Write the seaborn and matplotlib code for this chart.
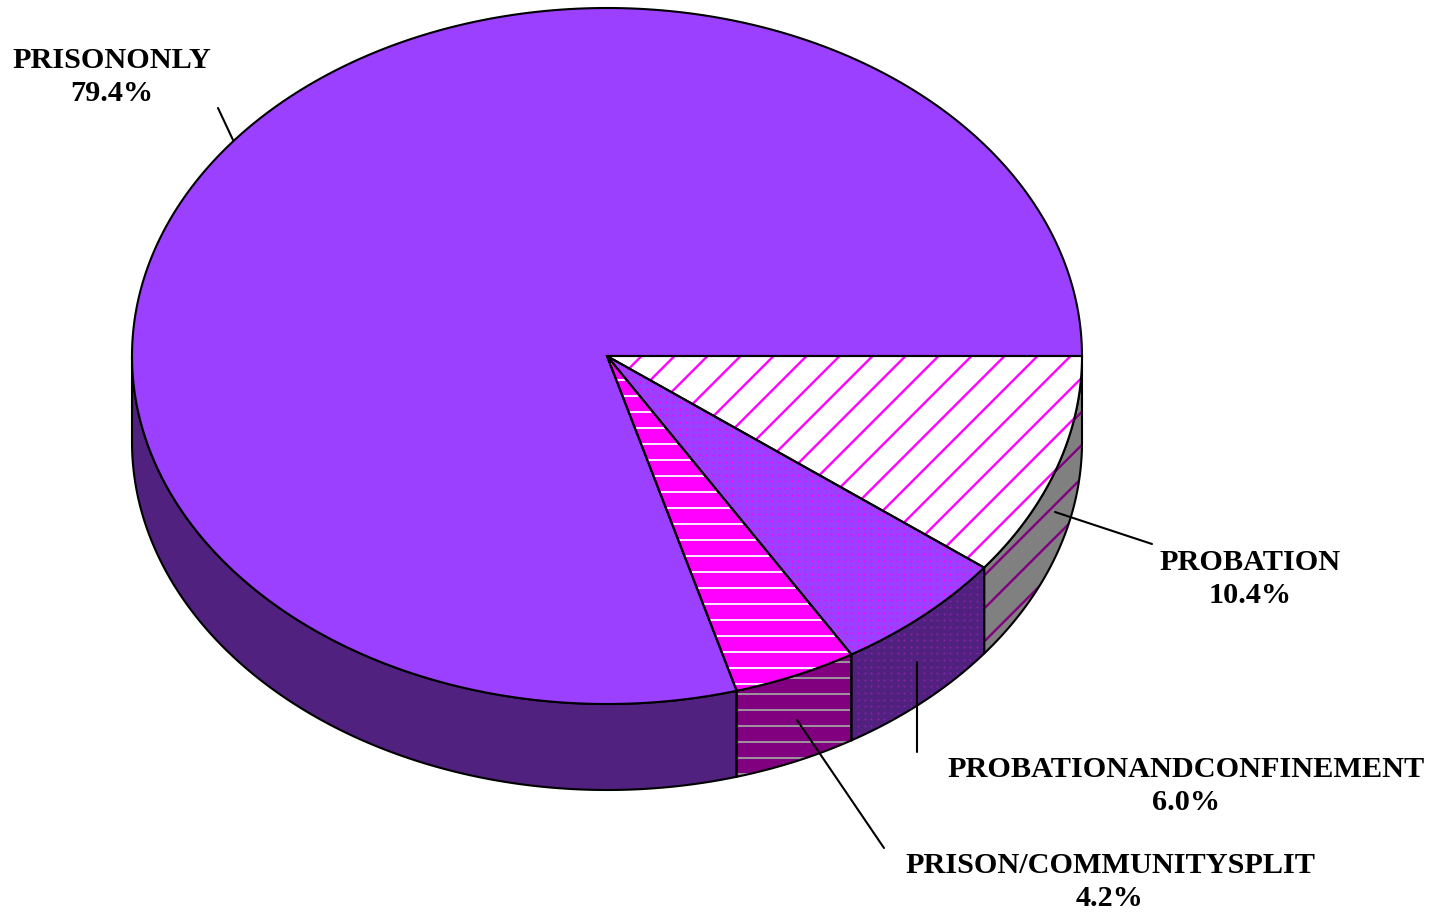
import numpy as np
import matplotlib
matplotlib.use("Agg")
import matplotlib.pyplot as plt
import seaborn as sns
from matplotlib.patches import Polygon
from matplotlib.collections import LineCollection

# Datos del gráfico (porcentajes)
categorias = ["PROBATION", "PROBATIONANDCONFINEMENT", "PRISON/COMMUNITYSPLIT", "PRISONONLY"]
porcentajes = [10.4, 6.0, 4.2, 79.4]

# Estilo de cada porción: color superior, color lateral, tipo de trama
color_top = ["#FFFFFF", "#9C40FF", "#FF00FF", "#9C40FF"]
color_lado = ["#808080", "#50217E", "#800080", "#50217E"]
trama = [("diag", "#FF00FF", "#800080"), ("dots", "#FF00FF", "#8A1FA8"),
         ("horiz", "#FFFFFF", "#A0A0A0"), (None, None, None)]

# Posiciones de etiquetas y líneas guía (en píxeles)
pos_etiquetas = [(1250, 579), (1186, 786), (1110, 882), (112, 77)]
lineas_guia = [((1055, 512), (1152, 544)), ((917, 662), (917, 752)),
               ((797, 720), (884, 848)), ((218, 108), (233, 140))]

sns.set_theme(style="white")
plt.rcParams['font.family'] = ['Liberation Serif', 'DejaVu Serif']
plt.rcParams['text.color'] = 'black'

# Geometría de la elipse (pastel 3D)
cx, cy, rx, ry, prof = 607, 356, 475, 348, 86

fig = plt.figure(figsize=(14.45, 9.13), dpi=100)
ax = fig.add_axes([0, 0, 1, 1])
ax.set_xlim(0, 1445)
ax.set_ylim(913, 0)
ax.axis('off')


def arco(t0, t1, dy=0, n=300):
    t = np.radians(np.linspace(t0, t1, n))
    return np.column_stack([cx + rx * np.cos(t), cy + dy + ry * np.sin(t)])


def rellenar(puntos, cara, tipo, color_trama, z):
    fondo = Polygon(puntos, closed=True, facecolor=cara, edgecolor='none', zorder=z)
    ax.add_patch(fondo)
    xmin, ymin = puntos.min(axis=0)
    xmax, ymax = puntos.max(axis=0)
    if tipo == "diag":
        segs = [[(c - 1000, ymax + 1000), (c + 1000, ymax - 1000)] for c in np.arange(xmin - 1200, xmax + 1200, 33)]
        lc = LineCollection(segs, colors=color_trama, linewidths=1.7, zorder=z + 0.1)
        ax.add_collection(lc)
        lc.set_clip_path(fondo)
    elif tipo == "horiz":
        segs = [[(xmin - 5, y), (xmax + 5, y)] for y in np.arange(ymin + 8, ymax, 16)]
        lc = LineCollection(segs, colors=color_trama, linewidths=1.3, zorder=z + 0.1)
        ax.add_collection(lc)
        lc.set_clip_path(fondo)
    elif tipo == "dots":
        gx, gy = np.meshgrid(np.arange(xmin, xmax, 6.6), np.arange(ymin, ymax, 6.6))
        sc = ax.scatter(gx.ravel(), gy.ravel(), s=2.2, color=color_trama, linewidths=0, zorder=z + 0.1)
        sc.set_clip_path(fondo)
    ax.add_patch(Polygon(puntos, closed=True, fill=False, edgecolor='black', linewidth=1.5, zorder=z + 0.2))


angulos = np.concatenate([[0], np.cumsum(porcentajes)]) / 100 * 360

# Caras laterales (solo la parte frontal visible, 0-180 grados)
for i in range(len(porcentajes)):
    lo, hi = max(angulos[i], 0), min(angulos[i + 1], 180)
    if hi <= lo:
        continue
    pts = np.vstack([arco(lo, hi), arco(lo, hi, dy=prof)[::-1]])
    rellenar(pts, color_lado[i], trama[i][0], trama[i][2], 1)

# Caras superiores
for i in range(len(porcentajes)):
    pts = np.vstack([[cx, cy], arco(angulos[i], angulos[i + 1])])
    rellenar(pts, color_top[i], trama[i][0], trama[i][1], 3)

# Etiquetas y líneas guía
for i, cat in enumerate(categorias):
    (x0, y0), (x1, y1) = lineas_guia[i]
    ax.plot([x0, x1], [y0, y1], color='black', linewidth=1.5, zorder=5)
    x, y = pos_etiquetas[i]
    ax.text(x, y, f"{cat}\n{porcentajes[i]:.1f}%", ha='center', va='center',
            multialignment='center', fontsize=21.8, fontweight='bold', linespacing=1.3, zorder=6)

plt.savefig("out.png", dpi=100)
